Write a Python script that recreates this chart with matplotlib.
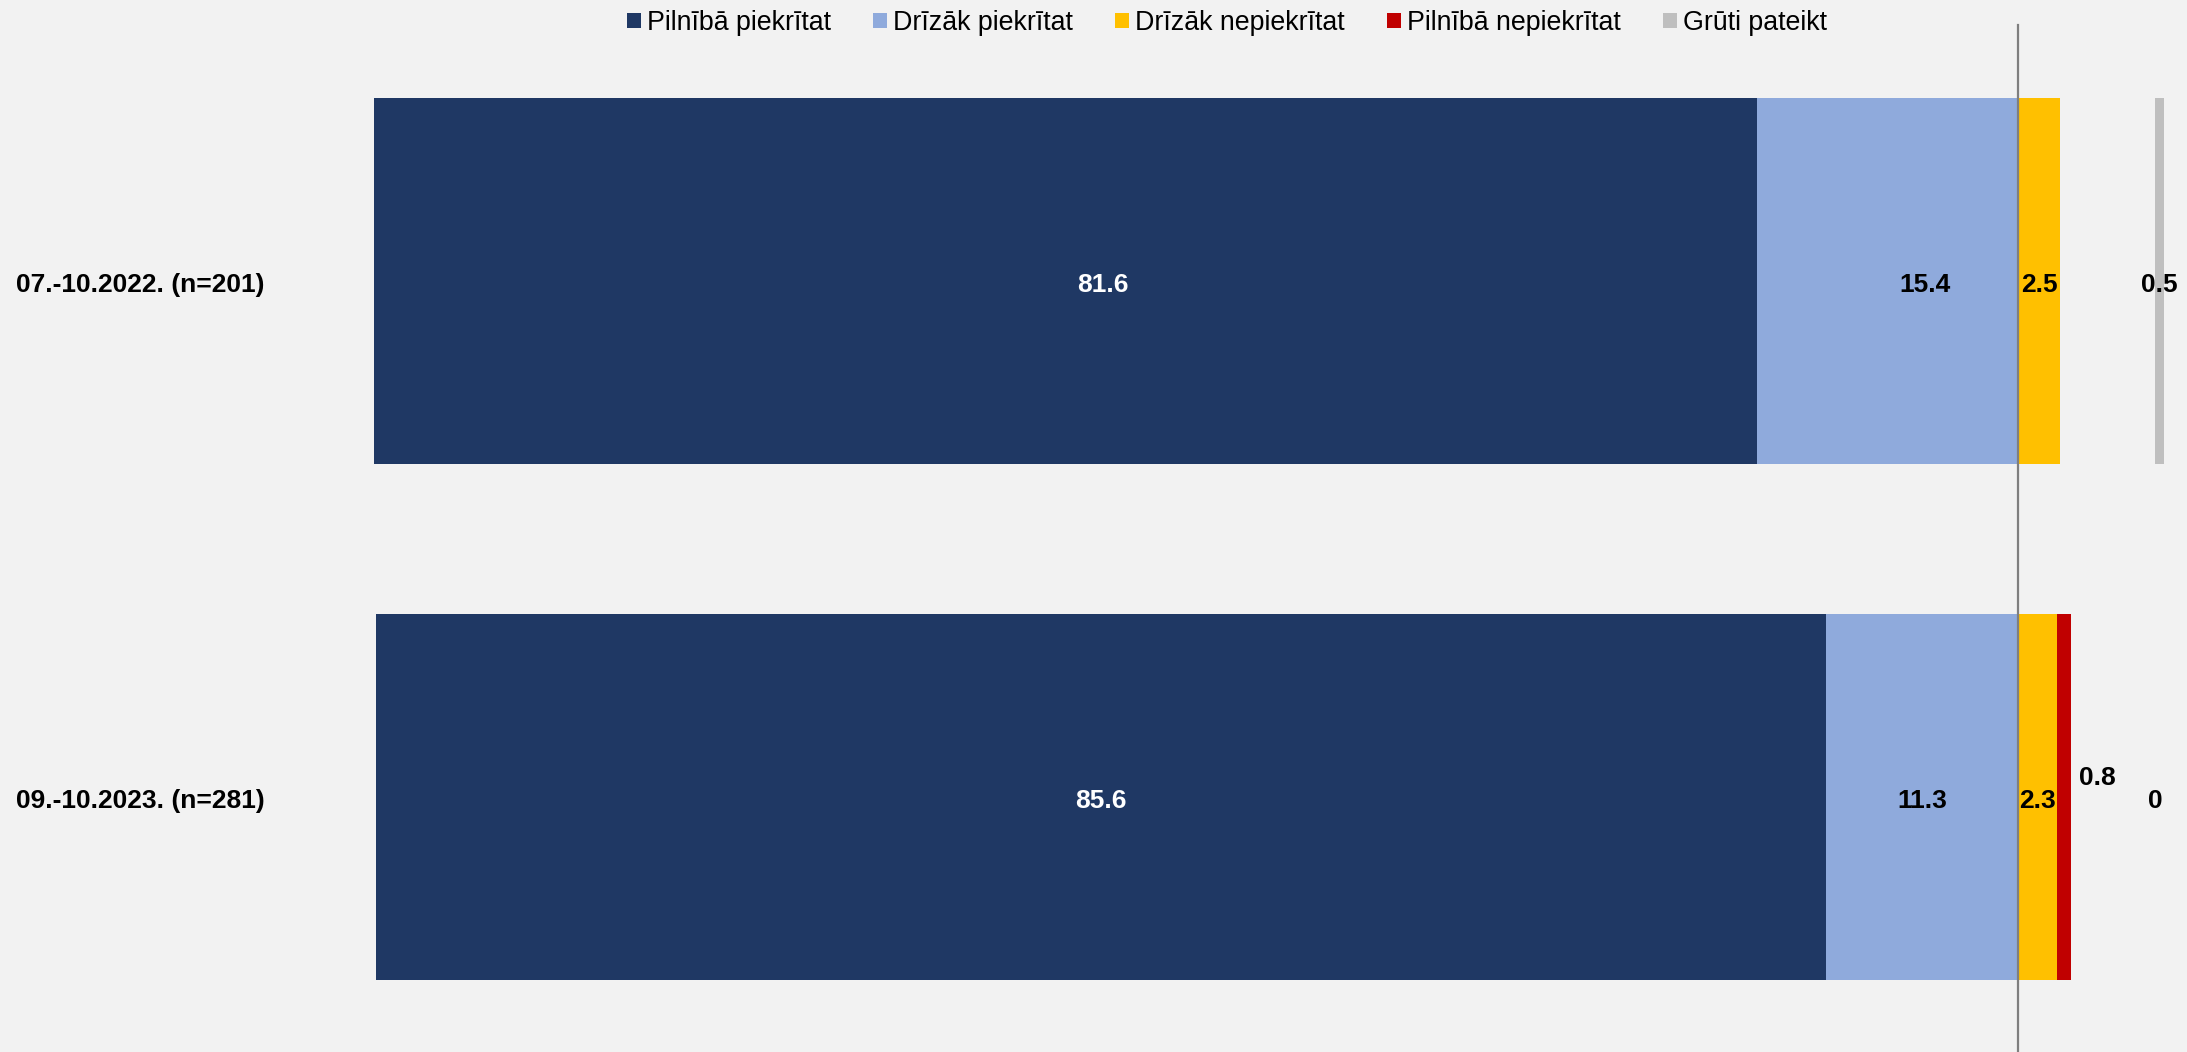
import matplotlib.pyplot as plt
from matplotlib.patches import Patch

plt.rcParams['font.family'] = ['Liberation Sans', 'DejaVu Sans']

# dati
kategorijas = ["07.-10.2022. (n=201)", "09.-10.2023. (n=281)"]
pilniba_piekrit = [81.6, 85.6]
drizak_piekrit = [15.4, 11.3]
drizak_nepiekrit = [2.5, 2.3]
pilniba_nepiekrit = [0.0, 0.8]
gruti_pateikt = [0.5, 0.0]

nosaukumi = ["Pilnībā piekrītat", "Drīzāk piekrītat", "Drīzāk nepiekrītat",
             "Pilnībā nepiekrītat", "Grūti pateikt"]
krasas = ["#1F3864", "#8FAADC", "#FFC000", "#C00000", "#BFBFBF"]

fona = "#F2F2F2"
fig = plt.figure(figsize=(21.87, 10.52), dpi=100, facecolor=fona)
ax = fig.add_axes([0, 0, 1, 1], facecolor=fona)

y = list(range(len(kategorijas)))
h = 0.71
gruti_x = 8.1  # atsevišķa kolonna "Grūti pateikt"

# kreisā puse (piekrīt)
ax.barh(y, [-v for v in drizak_piekrit], height=h, color=krasas[1])
ax.barh(y, [-v for v in pilniba_piekrit], height=h, color=krasas[0],
        left=[-v for v in drizak_piekrit])
# labā puse (nepiekrīt)
ax.barh(y, drizak_nepiekrit, height=h, color=krasas[2])
ax.barh(y, pilniba_nepiekrit, height=h, color=krasas[3], left=drizak_nepiekrit)
# grūti pateikt
ax.barh(y, gruti_pateikt, height=h, color=krasas[4], left=gruti_x)

ax.axvline(0, ymin=0, ymax=0.976, color="#7F7F7F", lw=1.6)

fs = 19
dy = 0.008
nobide = [2.2, 0.0]  # etiķešu nobīde pirmajai rindai
for i in y:
    yy = i + dy
    dp, dz = pilniba_piekrit[i], drizak_piekrit[i]
    ax.text(-dz - dp / 2 + nobide[i], yy, f"{dp:g}", color="white",
            ha="center", va="center", fontsize=fs, fontweight="bold")
    ax.text(-dz / 2 + nobide[i], yy, f"{dz:g}", color="black",
            ha="center", va="center", fontsize=fs, fontweight="bold")
    dn = drizak_nepiekrit[i]
    ax.text(dn / 2, yy, f"{dn:g}", color="black",
            ha="center", va="center", fontsize=fs, fontweight="bold")
    pn = pilniba_nepiekrit[i]
    if pn > 0:
        ax.text(dn + pn + 1.6, yy - 0.045, f"{pn:g}", color="black",
                ha="center", va="center", fontsize=fs, fontweight="bold")
    g = gruti_pateikt[i]
    ax.text(gruti_x + g / 2, yy, f"{g:g}", color="black",
            ha="center", va="center", fontsize=fs, fontweight="bold")
    ax.text(0.0073, yy, kategorijas[i], transform=ax.get_yaxis_transform(),
            ha="left", va="center", fontsize=fs, fontweight="bold")

ax.set_xlim(-119.06, 9.97)
ax.set_ylim(1.494, -0.5446)
ax.axis("off")

rokturi = [Patch(facecolor=c, edgecolor="none") for c in krasas]
fig.legend(rokturi, nosaukumi, loc="center", bbox_to_anchor=(0.561, 0.978),
           ncol=5, frameon=False, fontsize=19.3, handlelength=0.52,
           handleheight=0.52, handletextpad=0.25, columnspacing=1.55,
           borderaxespad=0)

fig.savefig("out.png", dpi=100, facecolor=fona)
